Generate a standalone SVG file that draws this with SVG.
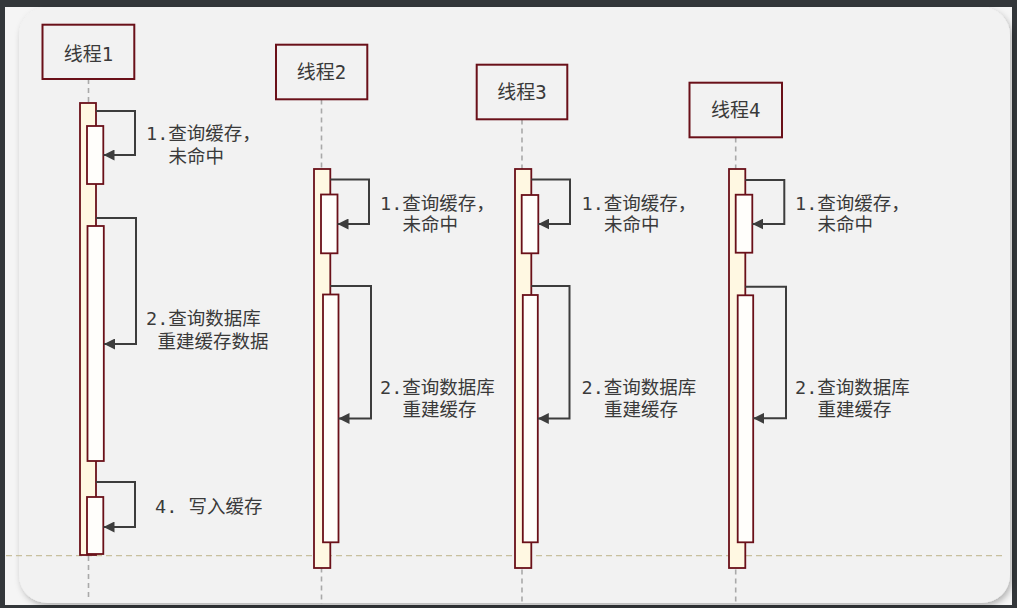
<svg xmlns="http://www.w3.org/2000/svg" width="1017" height="608" viewBox="0 0 1017 608">
<defs>
<filter id="sh" x="-5%" y="-5%" width="110%" height="110%">
<feDropShadow dx="2" dy="3" stdDeviation="3" flood-color="#000" flood-opacity="0.28"/>
</filter>
<marker id="ah" markerUnits="userSpaceOnUse" markerWidth="12" markerHeight="11" refX="11" refY="5.5" orient="auto">
<path d="M0,0 L11,5.5 L0,11 z" fill="#3d3d3d"/>
</marker>
<style>
.hdr{fill:#f2f2f2;stroke:#6a1019;stroke-width:2}
.life{stroke:#a9a9a9;stroke-width:1.6;stroke-dasharray:5 4;fill:none}
.outer{fill:#fff8e2;stroke:#6a1019;stroke-width:1.8}
.inner{fill:#fffefb;stroke:#6a1019;stroke-width:1.8}
.msg{fill:none;stroke:#3d3d3d;stroke-width:2;marker-end:url(#ah)}
text{font-family:"DejaVu Sans Mono","Noto Sans CJK SC",monospace;font-size:18.5px;fill:#3a3a3a}
.ht{text-anchor:middle;font-size:19px}
</style>
</defs>
<rect x="0" y="0" width="1017" height="608" fill="#33373a"/>
<rect x="5" y="7" width="1007" height="598" fill="#f5f5f5"/>
<rect x="19" y="7" width="991" height="596" rx="28" ry="28" fill="#f2f2f2" filter="url(#sh)"/>
<line x1="6" y1="555.7" x2="1005" y2="555.7" stroke="#c8c09e" stroke-width="1.3" stroke-dasharray="6 4"/>

<g id="lifelines">
<line class="life" x1="88.5" y1="79" x2="88.5" y2="600"/>
<line class="life" x1="321.5" y1="99.5" x2="321.5" y2="604"/>
<line class="life" x1="522" y1="119.5" x2="522" y2="604"/>
<line class="life" x1="735.7" y1="137.5" x2="735.7" y2="604"/>
</g>

<g id="thread1">
<rect class="hdr" x="42.5" y="24.7" width="91.8" height="54.3"/>
<text class="ht" x="88.5" y="61">线程1</text>
<rect class="outer" x="80" y="103" width="16" height="452"/>
<rect class="inner" x="87" y="126" width="16.3" height="58"/>
<rect class="inner" x="87.5" y="226" width="16.3" height="235"/>
<rect class="inner" x="87" y="497" width="16.3" height="57"/>
<text x="146" y="139.5">1.查询缓存，</text>
<text x="168.5" y="162.5">未命中</text>
<text x="146" y="325">2.查询数据库</text>
<text x="157.5" y="347.5">重建缓存数据</text>
<text x="155" y="512.5" xml:space="preserve">4. 写入缓存</text>
</g>

<g id="thread2">
<rect class="hdr" x="276" y="44.7" width="91.3" height="54.6"/>
<text class="ht" x="321.6" y="78.5">线程2</text>
<rect class="outer" x="314" y="169" width="16.3" height="399"/>
<rect class="inner" x="321" y="194.5" width="16.5" height="58.8"/>
<rect class="inner" x="323" y="294.5" width="15.5" height="247.8"/>
<text x="380" y="209.5">1.查询缓存，</text>
<text x="402.5" y="231">未命中</text>
<text x="380" y="394">2.查询数据库</text>
<text x="402.5" y="416">重建缓存</text>
</g>

<g id="thread3">
<rect class="hdr" x="476.7" y="64.7" width="90.6" height="54.6"/>
<text class="ht" x="522" y="98.7">线程3</text>
<rect class="outer" x="515" y="169" width="16.3" height="399"/>
<rect class="inner" x="521.7" y="195" width="16.6" height="58.3"/>
<rect class="inner" x="522.8" y="295" width="15" height="247.3"/>
<text x="581.5" y="209.5">1.查询缓存，</text>
<text x="604" y="231">未命中</text>
<text x="581.5" y="394">2.查询数据库</text>
<text x="604" y="416">重建缓存</text>
</g>

<g id="thread4">
<rect class="hdr" x="689.5" y="82.7" width="92.5" height="54.6"/>
<text class="ht" x="735.7" y="116.5">线程4</text>
<rect class="outer" x="729" y="169" width="16.3" height="399"/>
<rect class="inner" x="735.7" y="194.7" width="16.6" height="58"/>
<rect class="inner" x="737.7" y="295.3" width="15.5" height="247"/>
<text x="795" y="209.5">1.查询缓存，</text>
<text x="817.5" y="231">未命中</text>
<text x="795" y="394">2.查询数据库</text>
<text x="817.5" y="416">重建缓存</text>
</g>

<g id="connectors">
<path class="msg" d="M96,111 H135 V155 H103.5"/>
<path class="msg" d="M96,218 H136 V344 H104"/>
<path class="msg" d="M96,482 H135 V527 H103.5"/>
<path class="msg" d="M330.3,179.5 H369 V224 H337.5"/>
<path class="msg" d="M330.3,286 H371 V418.5 H338.5"/>
<path class="msg" d="M531.3,179.5 H570 V224 H538.3"/>
<path class="msg" d="M531.3,286 H569.5 V418.5 H537.8"/>
<path class="msg" d="M745.3,180 H784.3 V224 H752.3"/>
<path class="msg" d="M745.3,286.7 H786 V418.3 H753.2"/>
</g>
</svg>
